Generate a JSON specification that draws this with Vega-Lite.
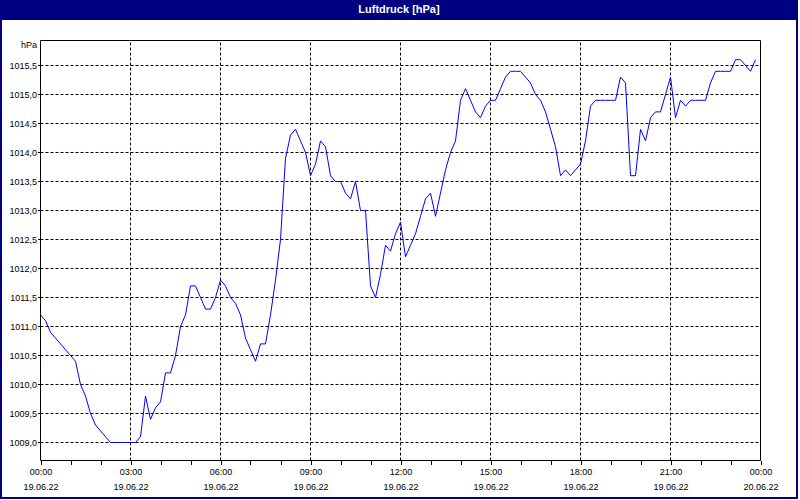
{
  "$schema": "https://vega.github.io/schema/vega-lite/v6.json",
  "width": 794,
  "height": 477,
  "autosize": {"type": "none"},
  "padding": {"left": 2, "top": 20, "right": 2, "bottom": 2},
  "background": "#000080",
  "view": {"fill": "#FFFFFF", "stroke": null},
  "title": {
    "text": "Luftdruck [hPa]",
    "color": "#FFFFFF",
    "font": "Liberation Sans",
    "fontSize": 11,
    "fontWeight": "bold",
    "anchor": "middle",
    "frame": "group",
    "offset": 5
  },
  "resolve": {"axis": {"x": "independent", "y": "independent"}},
  "datasets": {
    "hgrid": [
      {"p": 1009.0}, {"p": 1009.5}, {"p": 1010.0}, {"p": 1010.5}, {"p": 1011.0},
      {"p": 1011.5}, {"p": 1012.0}, {"p": 1012.5}, {"p": 1013.0}, {"p": 1013.5},
      {"p": 1014.0}, {"p": 1014.5}, {"p": 1015.0}, {"p": 1015.5}
    ],
    "vgrid": [
      {"t": "2022-06-19T03:00"}, {"t": "2022-06-19T06:00"}, {"t": "2022-06-19T09:00"},
      {"t": "2022-06-19T12:00"}, {"t": "2022-06-19T15:00"}, {"t": "2022-06-19T18:00"},
      {"t": "2022-06-19T21:00"}
    ],
    "pressure": [
      {"t": "2022-06-19T00:00", "p": 1011.2}, {"t": "2022-06-19T00:10", "p": 1011.1},
      {"t": "2022-06-19T00:20", "p": 1010.9}, {"t": "2022-06-19T00:30", "p": 1010.8},
      {"t": "2022-06-19T00:40", "p": 1010.7}, {"t": "2022-06-19T00:50", "p": 1010.6},
      {"t": "2022-06-19T01:00", "p": 1010.5}, {"t": "2022-06-19T01:10", "p": 1010.4},
      {"t": "2022-06-19T01:20", "p": 1010.0}, {"t": "2022-06-19T01:30", "p": 1009.8},
      {"t": "2022-06-19T01:40", "p": 1009.5}, {"t": "2022-06-19T01:50", "p": 1009.3},
      {"t": "2022-06-19T02:00", "p": 1009.2}, {"t": "2022-06-19T02:10", "p": 1009.1},
      {"t": "2022-06-19T02:20", "p": 1009.0}, {"t": "2022-06-19T02:30", "p": 1009.0},
      {"t": "2022-06-19T02:40", "p": 1009.0}, {"t": "2022-06-19T02:50", "p": 1009.0},
      {"t": "2022-06-19T03:00", "p": 1009.0}, {"t": "2022-06-19T03:10", "p": 1009.0},
      {"t": "2022-06-19T03:20", "p": 1009.1}, {"t": "2022-06-19T03:30", "p": 1009.8},
      {"t": "2022-06-19T03:40", "p": 1009.4}, {"t": "2022-06-19T03:50", "p": 1009.6},
      {"t": "2022-06-19T04:00", "p": 1009.7}, {"t": "2022-06-19T04:10", "p": 1010.2},
      {"t": "2022-06-19T04:20", "p": 1010.2}, {"t": "2022-06-19T04:30", "p": 1010.5},
      {"t": "2022-06-19T04:40", "p": 1011.0}, {"t": "2022-06-19T04:50", "p": 1011.2},
      {"t": "2022-06-19T05:00", "p": 1011.7}, {"t": "2022-06-19T05:10", "p": 1011.7},
      {"t": "2022-06-19T05:20", "p": 1011.5}, {"t": "2022-06-19T05:30", "p": 1011.3},
      {"t": "2022-06-19T05:40", "p": 1011.3}, {"t": "2022-06-19T05:50", "p": 1011.5},
      {"t": "2022-06-19T06:00", "p": 1011.8}, {"t": "2022-06-19T06:10", "p": 1011.7},
      {"t": "2022-06-19T06:20", "p": 1011.5}, {"t": "2022-06-19T06:30", "p": 1011.4},
      {"t": "2022-06-19T06:40", "p": 1011.2}, {"t": "2022-06-19T06:50", "p": 1010.8},
      {"t": "2022-06-19T07:00", "p": 1010.6}, {"t": "2022-06-19T07:10", "p": 1010.4},
      {"t": "2022-06-19T07:20", "p": 1010.7}, {"t": "2022-06-19T07:30", "p": 1010.7},
      {"t": "2022-06-19T07:40", "p": 1011.2}, {"t": "2022-06-19T07:50", "p": 1011.8},
      {"t": "2022-06-19T08:00", "p": 1012.5}, {"t": "2022-06-19T08:10", "p": 1013.9},
      {"t": "2022-06-19T08:20", "p": 1014.3}, {"t": "2022-06-19T08:30", "p": 1014.4},
      {"t": "2022-06-19T08:40", "p": 1014.2}, {"t": "2022-06-19T08:50", "p": 1014.0},
      {"t": "2022-06-19T09:00", "p": 1013.6}, {"t": "2022-06-19T09:10", "p": 1013.8},
      {"t": "2022-06-19T09:20", "p": 1014.2}, {"t": "2022-06-19T09:30", "p": 1014.1},
      {"t": "2022-06-19T09:40", "p": 1013.6}, {"t": "2022-06-19T09:50", "p": 1013.5},
      {"t": "2022-06-19T10:00", "p": 1013.5}, {"t": "2022-06-19T10:10", "p": 1013.3},
      {"t": "2022-06-19T10:20", "p": 1013.2}, {"t": "2022-06-19T10:30", "p": 1013.5},
      {"t": "2022-06-19T10:40", "p": 1013.0}, {"t": "2022-06-19T10:50", "p": 1013.0},
      {"t": "2022-06-19T11:00", "p": 1011.7}, {"t": "2022-06-19T11:10", "p": 1011.5},
      {"t": "2022-06-19T11:20", "p": 1011.9}, {"t": "2022-06-19T11:30", "p": 1012.4},
      {"t": "2022-06-19T11:40", "p": 1012.3}, {"t": "2022-06-19T11:50", "p": 1012.6},
      {"t": "2022-06-19T12:00", "p": 1012.8}, {"t": "2022-06-19T12:10", "p": 1012.2},
      {"t": "2022-06-19T12:20", "p": 1012.4}, {"t": "2022-06-19T12:30", "p": 1012.6},
      {"t": "2022-06-19T12:40", "p": 1012.9}, {"t": "2022-06-19T12:50", "p": 1013.2},
      {"t": "2022-06-19T13:00", "p": 1013.3}, {"t": "2022-06-19T13:10", "p": 1012.9},
      {"t": "2022-06-19T13:20", "p": 1013.3}, {"t": "2022-06-19T13:30", "p": 1013.7},
      {"t": "2022-06-19T13:40", "p": 1014.0}, {"t": "2022-06-19T13:50", "p": 1014.2},
      {"t": "2022-06-19T14:00", "p": 1014.9}, {"t": "2022-06-19T14:10", "p": 1015.1},
      {"t": "2022-06-19T14:20", "p": 1014.9}, {"t": "2022-06-19T14:30", "p": 1014.7},
      {"t": "2022-06-19T14:40", "p": 1014.6}, {"t": "2022-06-19T14:50", "p": 1014.8},
      {"t": "2022-06-19T15:00", "p": 1014.9}, {"t": "2022-06-19T15:10", "p": 1014.9},
      {"t": "2022-06-19T15:20", "p": 1015.1}, {"t": "2022-06-19T15:30", "p": 1015.3},
      {"t": "2022-06-19T15:40", "p": 1015.4}, {"t": "2022-06-19T15:50", "p": 1015.4},
      {"t": "2022-06-19T16:00", "p": 1015.4}, {"t": "2022-06-19T16:10", "p": 1015.3},
      {"t": "2022-06-19T16:20", "p": 1015.2}, {"t": "2022-06-19T16:30", "p": 1015.0},
      {"t": "2022-06-19T16:40", "p": 1014.9}, {"t": "2022-06-19T16:50", "p": 1014.7},
      {"t": "2022-06-19T17:00", "p": 1014.4}, {"t": "2022-06-19T17:10", "p": 1014.1},
      {"t": "2022-06-19T17:20", "p": 1013.6}, {"t": "2022-06-19T17:30", "p": 1013.7},
      {"t": "2022-06-19T17:40", "p": 1013.6}, {"t": "2022-06-19T17:50", "p": 1013.7},
      {"t": "2022-06-19T18:00", "p": 1013.8}, {"t": "2022-06-19T18:10", "p": 1014.2},
      {"t": "2022-06-19T18:20", "p": 1014.8}, {"t": "2022-06-19T18:30", "p": 1014.9},
      {"t": "2022-06-19T18:40", "p": 1014.9}, {"t": "2022-06-19T18:50", "p": 1014.9},
      {"t": "2022-06-19T19:00", "p": 1014.9}, {"t": "2022-06-19T19:10", "p": 1014.9},
      {"t": "2022-06-19T19:20", "p": 1015.3}, {"t": "2022-06-19T19:30", "p": 1015.2},
      {"t": "2022-06-19T19:40", "p": 1013.6}, {"t": "2022-06-19T19:50", "p": 1013.6},
      {"t": "2022-06-19T20:00", "p": 1014.4}, {"t": "2022-06-19T20:10", "p": 1014.2},
      {"t": "2022-06-19T20:20", "p": 1014.6}, {"t": "2022-06-19T20:30", "p": 1014.7},
      {"t": "2022-06-19T20:40", "p": 1014.7}, {"t": "2022-06-19T20:50", "p": 1015.0},
      {"t": "2022-06-19T21:00", "p": 1015.3}, {"t": "2022-06-19T21:10", "p": 1014.6},
      {"t": "2022-06-19T21:20", "p": 1014.9}, {"t": "2022-06-19T21:30", "p": 1014.8},
      {"t": "2022-06-19T21:40", "p": 1014.9}, {"t": "2022-06-19T21:50", "p": 1014.9},
      {"t": "2022-06-19T22:00", "p": 1014.9}, {"t": "2022-06-19T22:10", "p": 1014.9},
      {"t": "2022-06-19T22:20", "p": 1015.2}, {"t": "2022-06-19T22:30", "p": 1015.4},
      {"t": "2022-06-19T22:40", "p": 1015.4}, {"t": "2022-06-19T22:50", "p": 1015.4},
      {"t": "2022-06-19T23:00", "p": 1015.4}, {"t": "2022-06-19T23:10", "p": 1015.6},
      {"t": "2022-06-19T23:20", "p": 1015.6}, {"t": "2022-06-19T23:30", "p": 1015.5},
      {"t": "2022-06-19T23:40", "p": 1015.4}, {"t": "2022-06-19T23:50", "p": 1015.6}
    ]
  },
  "layer": [
    {
      "data": {"name": "hgrid"},
      "mark": {"type": "rule", "color": "#000000", "strokeWidth": 1, "strokeDash": [3, 2]},
      "encoding": {
        "y": {"field": "p", "type": "quantitative", "axis": null,
              "scale": {"domain": [1008.06034, 1016.28448], "zero": false, "nice": false}},
        "x": {"datum": {"year": 2022, "month": 6, "date": 19, "hours": 0}, "type": "temporal", "axis": null,
              "scale": {"type": "time", "nice": false, "domain": [{"year": 2022, "month": 6, "date": 18, "hours": 22, "minutes": 43}, {"year": 2022, "month": 6, "date": 20, "hours": 1, "minutes": 11}]}},
        "x2": {"datum": {"year": 2022, "month": 6, "date": 20, "hours": 0}}
      }
    },
    {
      "data": {"name": "vgrid"},
      "mark": {"type": "rule", "color": "#000000", "strokeWidth": 1, "strokeDash": [3, 2]},
      "encoding": {
        "x": {"field": "t", "type": "temporal", "axis": null,
              "scale": {"type": "time", "nice": false, "domain": [{"year": 2022, "month": 6, "date": 18, "hours": 22, "minutes": 43}, {"year": 2022, "month": 6, "date": 20, "hours": 1, "minutes": 11}]}},
        "y": {"datum": 1008.68966, "type": "quantitative", "axis": null,
              "scale": {"domain": [1008.06034, 1016.28448], "zero": false, "nice": false}},
        "y2": {"datum": 1015.93103}
      }
    },
    {
      "data": {"values": [{"frame": "plot"}]},
      "mark": {"type": "rect", "fill": "transparent", "stroke": "#000000", "strokeWidth": 1},
      "encoding": {
        "x": {"datum": {"year": 2022, "month": 6, "date": 19, "hours": 0}, "type": "temporal", "axis": null,
              "scale": {"type": "time", "nice": false, "domain": [{"year": 2022, "month": 6, "date": 18, "hours": 22, "minutes": 43}, {"year": 2022, "month": 6, "date": 20, "hours": 1, "minutes": 11}]}},
        "x2": {"datum": {"year": 2022, "month": 6, "date": 20, "hours": 0}},
        "y": {"datum": 1008.68966, "type": "quantitative", "axis": null,
              "scale": {"domain": [1008.06034, 1016.28448], "zero": false, "nice": false}},
        "y2": {"datum": 1015.93103}
      }
    },
    {
      "data": {"name": "pressure"},
      "mark": {"type": "line", "color": "#0000FF", "strokeWidth": 1, "interpolate": "linear"},
      "encoding": {
        "x": {
          "field": "t", "type": "temporal",
          "scale": {"type": "time", "nice": false, "domain": [{"year": 2022, "month": 6, "date": 18, "hours": 22, "minutes": 43}, {"year": 2022, "month": 6, "date": 20, "hours": 1, "minutes": 11}]},
          "axis": {
            "orient": "bottom", "offset": -36.5, "title": null,
            "values": [
              {"year": 2022, "month": 6, "date": 19, "hours": 0}, {"year": 2022, "month": 6, "date": 19, "hours": 1},
              {"year": 2022, "month": 6, "date": 19, "hours": 2}, {"year": 2022, "month": 6, "date": 19, "hours": 3},
              {"year": 2022, "month": 6, "date": 19, "hours": 4}, {"year": 2022, "month": 6, "date": 19, "hours": 5},
              {"year": 2022, "month": 6, "date": 19, "hours": 6}, {"year": 2022, "month": 6, "date": 19, "hours": 7},
              {"year": 2022, "month": 6, "date": 19, "hours": 8}, {"year": 2022, "month": 6, "date": 19, "hours": 9},
              {"year": 2022, "month": 6, "date": 19, "hours": 10}, {"year": 2022, "month": 6, "date": 19, "hours": 11},
              {"year": 2022, "month": 6, "date": 19, "hours": 12}, {"year": 2022, "month": 6, "date": 19, "hours": 13},
              {"year": 2022, "month": 6, "date": 19, "hours": 14}, {"year": 2022, "month": 6, "date": 19, "hours": 15},
              {"year": 2022, "month": 6, "date": 19, "hours": 16}, {"year": 2022, "month": 6, "date": 19, "hours": 17},
              {"year": 2022, "month": 6, "date": 19, "hours": 18}, {"year": 2022, "month": 6, "date": 19, "hours": 19},
              {"year": 2022, "month": 6, "date": 19, "hours": 20}, {"year": 2022, "month": 6, "date": 19, "hours": 21},
              {"year": 2022, "month": 6, "date": 19, "hours": 22}, {"year": 2022, "month": 6, "date": 19, "hours": 23},
              {"year": 2022, "month": 6, "date": 20, "hours": 0}
            ],
            "labelExpr": "hours(datum.value) % 3 == 0 ? [timeFormat(datum.value, '%H:%M'), timeFormat(datum.value, '%d.%m.%y')] : ''",
            "domain": false, "grid": false,
            "ticks": true, "tickSize": 4, "tickColor": "#000000", "tickWidth": 1,
            "labelPadding": 3, "labelFont": "Liberation Sans", "labelFontSize": 9, "labelColor": "#000000",
            "labelLineHeight": 15, "labelBaseline": "top", "labelFlush": false, "labelOverlap": false, "labelBound": false
          }
        },
        "y": {
          "field": "p", "type": "quantitative",
          "scale": {"domain": [1008.06034, 1016.28448], "zero": false, "nice": false},
          "axis": {
            "orient": "left", "offset": -38.5,
            "values": [1009.0, 1009.5, 1010.0, 1010.5, 1011.0, 1011.5, 1012.0, 1012.5, 1013.0, 1013.5, 1014.0, 1014.5, 1015.0, 1015.5],
            "labelExpr": "replace(format(datum.value, '.1f'), '.', ',')",
            "domain": false, "grid": false,
            "ticks": true, "tickSize": 3, "tickColor": "#000000", "tickWidth": 1,
            "labelPadding": 1, "labelFont": "Liberation Sans", "labelFontSize": 9, "labelColor": "#000000",
            "labelOverlap": false, "labelBound": false,
            "title": "hPa", "titleAngle": 0, "titleX": -4, "titleY": 27, "titleAlign": "right",
            "titleBaseline": "alphabetic", "titleFont": "Liberation Sans", "titleFontSize": 9,
            "titleFontWeight": "normal", "titleColor": "#000000"
          }
        }
      }
    }
  ]
}
